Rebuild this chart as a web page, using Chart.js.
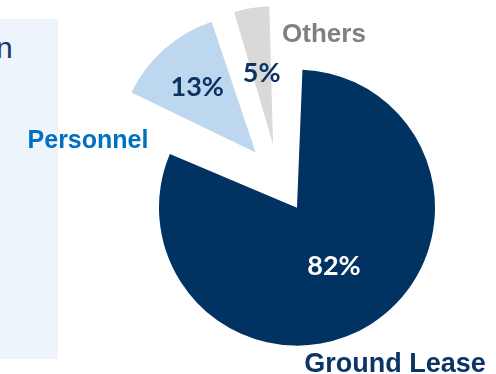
<!DOCTYPE html>
<html>
<head>
<meta charset="utf-8">
<script src="https://cdn.jsdelivr.net/npm/chart.js@4.4.1/dist/chart.umd.min.js"></script>
<style>
    html, body {
        margin: 0;
        padding: 0;
        background: #ffffff;
    }
    body {
        position: relative;
        width: 496px;
        height: 374px;
        overflow: hidden;
    }
    .side-panel {
        position: absolute;
        left: 0;
        top: 19px;
        width: 58px;
        height: 340px;
        background: #edf4fb;
        overflow: hidden;
    }
    .side-panel span {
        position: absolute;
        left: -4px;
        top: 14px;
        font-family: "Liberation Sans", Arial, sans-serif;
        font-size: 30px;
        line-height: 30px;
        color: #1f3864;
    }
    #costChart {
        position: absolute;
        left: 0;
        top: 0;
    }
</style>
</head>
<body>
<div class="side-panel"><span>n</span></div>
<canvas id="costChart" width="496" height="374"></canvas>
<script>
const categories = ["Ground Lease", "Personnel", "Others"];
const shares = [82, 13, 5];

const sliceColors = ["#003262", "#bdd7ee", "#d9d9d9"];
const shareTextColors = ["#ffffff", "#0b3463", "#0b3463"];
const categoryColors = ["#0d3466", "#0070c0", "#808080"];

const pieRadius = 138;
const explode = 138; // Chart.js shifts each arc by offset / 4

// Chart.js also grows an offset arc's radius; undo that so every slice keeps pieRadius
const evenRadius = {
    id: "evenRadius",
    afterDatasetsUpdate(chart) {
        chart.getDatasetMeta(0).data.forEach((arc) => {
            const shift = explode / 4;
            const fix = 1 - Math.sin(Math.min(Math.PI, arc.circumference));
            arc.outerRadius = pieRadius - shift * fix;
        });
    }
};

// percentage inside each slice, category name next to it
const sliceLabels = {
    id: "sliceLabels",
    afterDatasetsDraw(chart, args, opts) {
        const ctx = chart.ctx;
        const arcs = chart.getDatasetMeta(0).data;
        ctx.save();
        ctx.textAlign = "center";
        ctx.textBaseline = "alphabetic";
        arcs.forEach((arc, i) => {
            const mid = (arc.startAngle + arc.endAngle) / 2;
            const dist = explode / 4 + pieRadius * opts.depth[i];
            const x = arc.x + Math.cos(mid) * dist;
            const y = arc.y + Math.sin(mid) * dist;
            ctx.font = "bold 27px Lato, sans-serif";
            ctx.fillStyle = shareTextColors[i];
            ctx.fillText(`${shares[i]}%`, x, y + 9.5);
        });
        categories.forEach((name, i) => {
            const [x, y] = opts.namePos[i];
            ctx.font = `bold ${opts.nameSize[i]}px 'Liberation Sans', Arial, sans-serif`;
            ctx.fillStyle = categoryColors[i];
            ctx.fillText(name, x, y);
        });
        ctx.restore();
    }
};

new Chart(document.getElementById("costChart"), {
    type: "pie",
    data: {
        labels: categories,
        datasets: [{
            data: shares,
            backgroundColor: sliceColors,
            borderWidth: 0,
            offset: explode,
            hoverOffset: 0
        }]
    },
    options: {
        responsive: false,
        animation: false,
        radius: pieRadius,
        events: [],
        layout: { padding: { left: 61, right: 0, top: 0, bottom: 17 } },
        plugins: {
            legend: { display: false },
            tooltip: { enabled: false },
            sliceLabels: {
                depth: [0.5, 0.64, 0.53],
                namePos: [[395, 372], [88, 148], [324, 42]],
                nameSize: [27, 25, 26]
            }
        }
    },
    plugins: [evenRadius, sliceLabels]
});
</script>
</body>
</html>
